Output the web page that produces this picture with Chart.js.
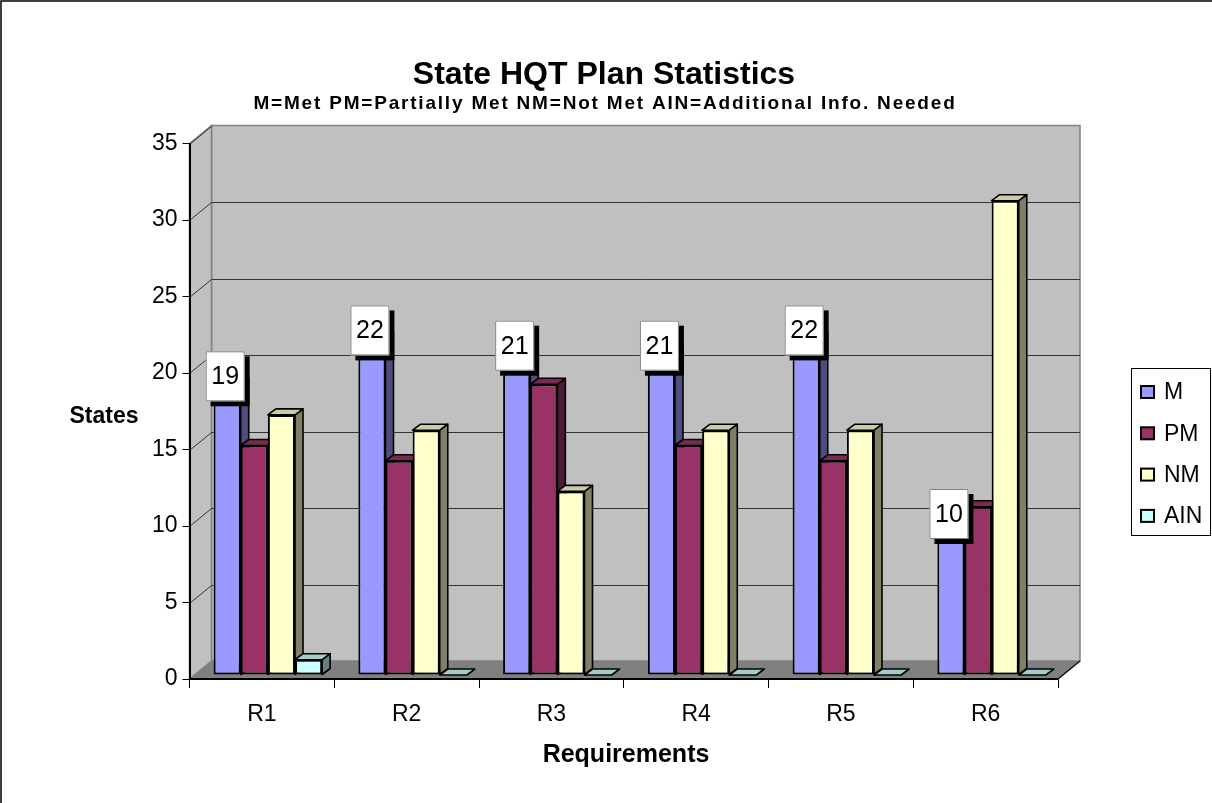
<!DOCTYPE html>
<html>
<head>
<meta charset="utf-8">
<script src="https://cdn.jsdelivr.net/npm/chart.js@4/dist/chart.umd.min.js"></script>
<style>
  html, body { margin: 0; padding: 0; background: #ffffff; }
  canvas { display: block; }
</style>
</head>
<body>
<canvas id="c" width="1212" height="803"></canvas>
<script>
// ---- data ----
const categories = ['R1', 'R2', 'R3', 'R4', 'R5', 'R6'];
const seriesNames = ['M', 'PM', 'NM', 'AIN'];
const metValues = [19, 22, 21, 21, 22, 10];
const partiallyMetValues = [15, 14, 19, 15, 14, 11];
const notMetValues = [17, 16, 12, 16, 16, 31];
const additionalInfoValues = [1, 0, 0, 0, 0, 0];
const yMin = 0, yMax = 35, yStep = 5;
const chartTitle = 'State HQT Plan Statistics';
const chartSubtitle = 'M=Met PM=Partially Met NM=Not Met AIN=Additional Info. Needed';
const xTitle = 'Requirements';
const yTitle = 'States';

// ---- styles ----
const FONT = '"Liberation Sans", Arial, sans-serif';
const frontColors = ['#9999FF', '#993366', '#FFFFCC', '#CCFFFF'];
const sideColors = ['#4D4D80', '#4D1A33', '#808066', '#668080'];
const topColors = ['#7A7ACC', '#7A2952', '#CCCCA3', '#A3CCCC'];
const WALL_DX = 22, WALL_DY = -18;
const BAR_DX = 8, BAR_DY = -6;
const SHIFT_X = 6, SHIFT_Y = -4;

const seriesValues = [metValues, partiallyMetValues, notMetValues, additionalInfoValues];

const wallsPlugin = {
  id: 'walls',
  beforeDraw(chart) {
    const ctx = chart.ctx;
    const a = chart.chartArea;
    const ys = chart.scales.y;
    ctx.save();
    ctx.fillStyle = '#ffffff';
    ctx.fillRect(0, 0, chart.width, chart.height);
    // outer frame
    ctx.strokeStyle = '#000';
    ctx.lineWidth = 1.5;
    ctx.strokeRect(1, 1, chart.width + 20, chart.height + 20);
    // back wall
    ctx.fillStyle = '#C0C0C0';
    ctx.strokeStyle = '#808080';
    ctx.lineWidth = 1.5;
    ctx.beginPath();
    ctx.rect(a.left + WALL_DX, a.top + WALL_DY, a.right - a.left, a.bottom - a.top);
    ctx.fill(); ctx.stroke();
    // left wall
    ctx.beginPath();
    ctx.moveTo(a.left, a.top);
    ctx.lineTo(a.left + WALL_DX, a.top + WALL_DY);
    ctx.lineTo(a.left + WALL_DX, a.bottom + WALL_DY);
    ctx.lineTo(a.left, a.bottom);
    ctx.closePath();
    ctx.fill(); ctx.stroke();
    // floor
    ctx.fillStyle = '#808080';
    ctx.beginPath();
    ctx.moveTo(a.left, a.bottom);
    ctx.lineTo(a.left + WALL_DX, a.bottom + WALL_DY);
    ctx.lineTo(a.right + WALL_DX, a.bottom + WALL_DY);
    ctx.lineTo(a.right, a.bottom);
    ctx.closePath();
    ctx.fill();
    ctx.strokeStyle = '#000';
    ctx.lineWidth = 1.2;
    ctx.beginPath();
    ctx.moveTo(a.right, a.bottom);
    ctx.lineTo(a.right + WALL_DX, a.bottom + WALL_DY);
    ctx.stroke();
    // gridlines
    ctx.strokeStyle = '#333333';
    ctx.lineWidth = 1;
    for (let v = yMin + yStep; v <= yMax; v += yStep) {
      const py = Math.round(ys.getPixelForValue(v)) + 0.5;
      ctx.beginPath();
      ctx.moveTo(a.left, py);
      ctx.lineTo(a.left + WALL_DX, py + WALL_DY);
      if (v < yMax) ctx.lineTo(a.right + WALL_DX, py + WALL_DY);
      ctx.stroke();
    }
    ctx.restore();
  },
  afterDraw(chart) {
    const ctx = chart.ctx;
    const a = chart.chartArea;
    ctx.save();
    ctx.fillStyle = '#000';
    ctx.textAlign = 'center';
    ctx.textBaseline = 'middle';
    ctx.font = 'bold 32px ' + FONT;
    ctx.fillText(chartTitle, 604, 75);
    ctx.font = 'bold 19px ' + FONT;
    try { ctx.letterSpacing = '1.8px'; } catch (e) {}
    ctx.fillText(chartSubtitle, 605, 104);
    try { ctx.letterSpacing = '0px'; } catch (e) {}
    ctx.font = 'bold 25px ' + FONT;
    ctx.fillText(xTitle, 626, 755);
    ctx.font = 'bold 23px ' + FONT;
    ctx.fillText(yTitle, 104, 417);

    // legend
    const lx = 1131.5, ly = 368.5, lw = 79, lh = 167;
    ctx.fillStyle = '#fff';
    ctx.fillRect(lx, ly, lw, lh);
    ctx.strokeStyle = '#000';
    ctx.lineWidth = 1;
    ctx.strokeRect(lx, ly, lw, lh);
    ctx.font = '23px ' + FONT;
    ctx.textAlign = 'left';
    chart.data.datasets.forEach((ds, i) => {
      const cy = 392 + i * 41.3;
      ctx.fillStyle = ds.backgroundColor;
      ctx.fillRect(1141, cy - 6, 13, 12);
      ctx.lineWidth = 2;
      ctx.strokeRect(1141, cy - 6, 13, 12);
      ctx.fillStyle = '#000';
      ctx.fillText(ds.label, 1164, cy + 1);
    });
    ctx.restore();
  }
};

const bars3dPlugin = {
  id: 'bars3d',
  beforeDatasetsDraw(chart) {
    const ctx = chart.ctx;
    ctx.save();
    ctx.translate(SHIFT_X, SHIFT_Y);
    ctx.lineWidth = 1.6;
    ctx.strokeStyle = '#000';
    ctx.lineJoin = 'round';
    chart.data.datasets.forEach((ds, di) => {
      const meta = chart.getDatasetMeta(di);
      meta.data.forEach((bar) => {
        const p = bar.getProps(['x', 'y', 'base', 'width'], true);
        const left = p.x - p.width / 2, right = p.x + p.width / 2;
        const top = Math.min(p.y, p.base), bottom = Math.max(p.y, p.base);
        if (bottom - top > 0) {
          ctx.fillStyle = sideColors[di];
          ctx.beginPath();
          ctx.moveTo(right, top);
          ctx.lineTo(right + BAR_DX, top + BAR_DY);
          ctx.lineTo(right + BAR_DX, bottom + BAR_DY);
          ctx.lineTo(right, bottom);
          ctx.closePath();
          ctx.fill(); ctx.stroke();
        }
        ctx.fillStyle = topColors[di];
        ctx.beginPath();
        ctx.moveTo(left, top);
        ctx.lineTo(right, top);
        ctx.lineTo(right + BAR_DX, top + BAR_DY);
        ctx.lineTo(left + BAR_DX, top + BAR_DY);
        ctx.closePath();
        ctx.fill(); ctx.stroke();
      });
    });
  },
  afterDatasetsDraw(chart) {
    const ctx = chart.ctx;
    const meta = chart.getDatasetMeta(0);
    const vals = chart.data.datasets[0].data;
    meta.data.forEach((bar, i) => {
      const p = bar.getProps(['x', 'y'], true);
      const w = 39, h = 50;
      const cx = p.x - 2, cy = p.y - 8;
      const bx = cx - w / 2, by = cy - h / 2;
      ctx.fillStyle = '#000';
      ctx.fillRect(bx + 5, by + 5, w, h);
      ctx.fillStyle = '#fff';
      ctx.fillRect(bx, by, w, h);
      ctx.strokeStyle = '#808080';
      ctx.lineWidth = 1;
      ctx.strokeRect(bx + 0.5, by + 0.5, w - 1, h - 1);
      ctx.fillStyle = '#000';
      ctx.font = '25px ' + FONT;
      ctx.textAlign = 'center';
      ctx.textBaseline = 'middle';
      ctx.fillText(String(vals[i]), cx, cy + 1);
    });
    ctx.restore();
  }
};

const datasets = seriesNames.map((name, i) => ({
  label: name,
  data: seriesValues[i],
  backgroundColor: frontColors[i],
  borderColor: '#000',
  borderWidth: 2,
  borderSkipped: false,
  categoryPercentage: 0.75,
  barPercentage: 1.0,
  clip: false
}));

new Chart(document.getElementById('c'), {
  type: 'bar',
  data: { labels: categories, datasets: datasets },
  options: {
    responsive: false,
    devicePixelRatio: 1,
    animation: false,
    layout: { padding: { left: 0, right: 154, top: 143.5, bottom: 0 } },
    plugins: {
      legend: { display: false },
      title: { display: false },
      tooltip: { enabled: false }
    },
    scales: {
      x: {
        grid: { display: true, drawOnChartArea: false, drawTicks: true, tickLength: 9, color: '#000', lineWidth: 1 },
        border: { display: true, color: '#000', width: 2 },
        ticks: { font: { family: FONT, size: 23 }, color: '#000', padding: 13 },
        afterFit(s) { s.height = 124; }
      },
      y: {
        min: yMin,
        max: yMax,
        grid: { display: true, drawOnChartArea: false, drawTicks: true, tickLength: 7, color: '#000', lineWidth: 1 },
        border: { display: true, color: '#000', width: 2 },
        ticks: { stepSize: yStep, font: { family: FONT, size: 23 }, color: '#000', padding: 5 },
        afterFit(s) { s.width = 189.5; }
      }
    }
  },
  plugins: [wallsPlugin, bars3dPlugin]
});
</script>
</body>
</html>
